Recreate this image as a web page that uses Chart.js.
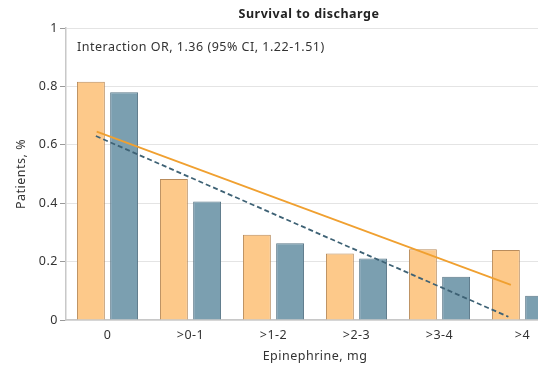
<!DOCTYPE html>
<html lang="en">
<head>
<meta charset="UTF-8">
<title>Survival to discharge</title>
<script src="https://cdn.jsdelivr.net/npm/chart.js@4.4.0/dist/chart.umd.min.js"></script>
<style>
  html, body { margin: 0; padding: 0; background: #fff; overflow: hidden; }
  #wrap { position: relative; width: 564px; height: 368px; }
</style>
</head>
<body>
<div id="wrap"><canvas id="chart"></canvas></div>
<script>
// Data
const categories = ['0', '>0-1', '>1-2', '>2-3', '>3-4', '>4'];
const groupA = [0.816, 0.483, 0.292, 0.228, 0.242, 0.240];   // orange bars
const groupB = [0.780, 0.406, 0.263, 0.211, 0.148, 0.083];   // blue bars
// Fitted trend lines: [category position, value] at both ends
const trendA = [[-0.13, 0.645], [4.86, 0.120]];
const trendB = [[-0.14, 0.630], [4.83, 0.011]];
const yTicks = [0, 0.2, 0.4, 0.6, 0.8, 1];
const title = 'Survival to discharge';
const annotation = 'Interaction OR, 1.36 (95% CI, 1.22-1.51)';

const FONT = '"Noto Sans", "DejaVu Sans", sans-serif';
Chart.defaults.font.family = FONT;
Chart.defaults.color = '#333';

// the source font is a little wider than Noto Sans
const spacing = {
  id: 'spacing',
  beforeLayout(chart) { chart.ctx.letterSpacing = '0.5px'; },
  beforeDraw(chart) { chart.ctx.letterSpacing = '0.5px'; }
};

// trend lines go through the category scale at fractional positions
// (line datasets on a second x axis broke the bar grouping)
const trends = {
  id: 'trends',
  afterDatasetsDraw(chart) {
    const { ctx, scales: { x, y } } = chart;
    const drawTrend = (pts, color, dash) => {
      ctx.save();
      ctx.strokeStyle = color;
      ctx.lineWidth = 1.8;
      ctx.setLineDash(dash);
      ctx.beginPath();
      pts.forEach(([cx, v], i) => {
        const px = x.getPixelForValue(cx), py = y.getPixelForValue(v);
        if (i === 0) ctx.moveTo(px, py); else ctx.lineTo(px, py);
      });
      ctx.stroke();
      ctx.restore();
    };
    drawTrend(trendA, '#f0a030', []);
    drawTrend(trendB, '#3e6275', [5, 3]);
  }
};

// title centred over the visible part of the plot, plus the OR note
const annotate = {
  id: 'annotate',
  afterDraw(chart) {
    const { ctx, chartArea, scales } = chart;
    ctx.save();
    ctx.fillStyle = '#222';
    ctx.textBaseline = 'middle';
    ctx.textAlign = 'center';
    ctx.font = 'bold 12.5px ' + FONT;
    ctx.fillText(title, 309, 14);
    ctx.fillStyle = '#333';
    ctx.textAlign = 'left';
    ctx.font = '12.5px ' + FONT;
    ctx.fillText(annotation, chartArea.left + 11, scales.y.getPixelForValue(0.932));
    ctx.restore();
  }
};

new Chart(document.getElementById('chart'), {
  type: 'bar',
  data: {
    labels: categories,
    datasets: [
      {
        data: groupA,
        backgroundColor: '#fdc98a', borderColor: '#b98c5c', borderWidth: 1,
        categoryPercentage: 0.8, barPercentage: 0.84
      },
      {
        data: groupB,
        backgroundColor: '#7b9fb0', borderColor: '#5a7787', borderWidth: 1,
        categoryPercentage: 0.8, barPercentage: 0.84
      }
    ]
  },
  options: {
    responsive: true,
    maintainAspectRatio: false,
    animation: false,
    layout: { padding: { top: 28, right: 0, bottom: 0, left: 0 } },
    plugins: {
      legend: { display: false },
      tooltip: { enabled: false },
      title: { display: false }
    },
    scales: {
      x: {
        type: 'category',
        offset: true,
        grid: { display: false, drawTicks: false },
        border: { color: '#c8c8c8', width: 1.5 },
        ticks: { font: { size: 12.5 }, color: '#333', padding: 8 },
        title: { display: true, text: 'Epinephrine, mg', font: { size: 12.5 }, color: '#333', padding: { top: 1 } },
        afterFit(scale) { scale.height = 48; }
      },
      y: {
        min: 0,
        max: 1,
        afterBuildTicks(scale) { scale.ticks = yTicks.map(v => ({ value: v })); },
        grid: { color: '#e4e4e4', lineWidth: 1, tickLength: 6, tickColor: '#999' },
        border: { color: '#c8c8c8', width: 1.5 },
        ticks: { font: { size: 12.5 }, color: '#333', padding: 2, callback: v => String(v) },
        title: { display: true, text: 'Patients, %', font: { size: 12.5 }, color: '#333', padding: { top: 14, bottom: 0 } },
        afterFit(scale) { scale.width = 66; }
      }
    }
  },
  plugins: [spacing, trends, annotate]
});
</script>
</body>
</html>
